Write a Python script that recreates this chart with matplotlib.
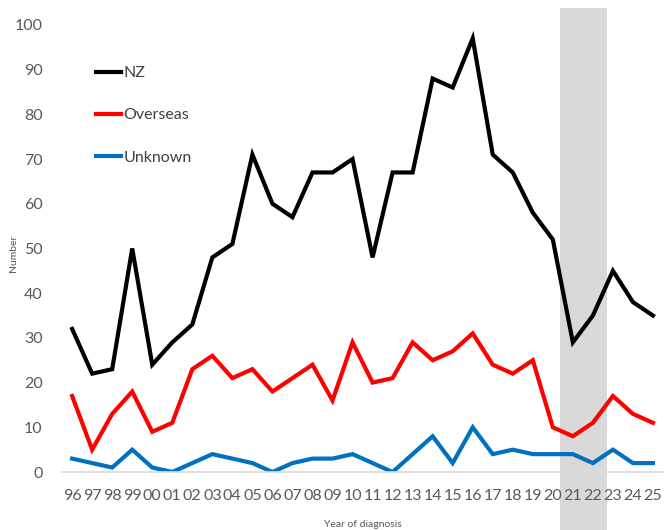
import matplotlib
matplotlib.use("Agg")
import matplotlib.pyplot as plt
from matplotlib.patches import Rectangle
from matplotlib.transforms import blended_transform_factory

years = ["96", "97", "98", "99", "00", "01", "02", "03", "04", "05", "06", "07", "08", "09",
         "10", "11", "12", "13", "14", "15", "16", "17", "18", "19", "20", "21", "22", "23",
         "24", "25"]
nz = [32, 22, 23, 50, 24, 29, 33, 48, 51, 71, 60, 57, 67, 67, 70, 48, 67, 67, 88, 86, 97,
      71, 67, 58, 52, 29, 35, 45, 38, 35]
overseas = [17, 5, 13, 18, 9, 11, 23, 26, 21, 23, 18, 21, 24, 16, 29, 20, 21, 29, 25, 27, 31,
            24, 22, 25, 10, 8, 11, 17, 13, 11]
unknown = [3, 2, 1, 5, 1, 0, 2, 4, 3, 2, 0, 2, 3, 3, 4, 2, 0, 4, 8, 2, 10, 4, 5, 4, 4, 4, 2,
           5, 2, 2]
yticks = [0, 10, 20, 30, 40, 50, 60, 70, 80, 90, 100]

plt.rcParams['font.family'] = ['Lato', 'DejaVu Sans']

fig = plt.figure(figsize=(6.68, 5.30), dpi=100, facecolor='white')
ax = fig.add_axes([0.093, 0.1094, 0.8995, 0.8436])
ax.patch.set_visible(False)

x = list(range(len(years)))
ax.plot(x, nz, color='black', lw=3, label='NZ', solid_joinstyle='miter')
ax.plot(x, overseas, color='#FF0000', lw=3, label='Overseas', solid_joinstyle='miter')
ax.plot(x, unknown, color='#0070C0', lw=3, label='Unknown', solid_joinstyle='miter')

# shaded period (extends beyond the axes, in figure coordinates vertically)
tr = blended_transform_factory(ax.transData, fig.transFigure)
rect = Rectangle((24.36, 0.0), 2.34, 1 - 8 / 530, transform=tr,
                 facecolor='#D9D9D9', edgecolor='none', zorder=-1)
fig.add_artist(rect)

ax.set_xlim(-0.5, 29.5)
ax.set_ylim(0, 100)
ax.set_xticks(x)
ax.set_xticklabels(years)
ax.set_yticks(yticks)
ax.tick_params(axis='both', length=0, labelsize=11.5, labelcolor='#595959')
ax.tick_params(axis='y', pad=14)
ax.tick_params(axis='x', pad=12)
for s in ['top', 'right', 'left']:
    ax.spines[s].set_visible(False)
ax.spines['bottom'].set_color('#D9D9D9')
ax.spines['bottom'].set_linewidth(1.2)

ax.set_ylabel('Number', fontsize=7.5, color='#595959')
ax.yaxis.set_label_coords(-0.074, 0.49)
ax.set_xlabel('Year of diagnosis', fontsize=7.5, color='#595959')
ax.xaxis.set_label_coords(0.5, -0.108)

leg = ax.legend(loc='upper left', bbox_to_anchor=(0.045, 0.922), frameon=False,
                fontsize=11.5, handlelength=1.6, handletextpad=0.15, labelspacing=1.75,
                borderaxespad=0)
for t in leg.get_texts():
    t.set_color('#404040')

fig.savefig('out.png', dpi=100, facecolor='white')
